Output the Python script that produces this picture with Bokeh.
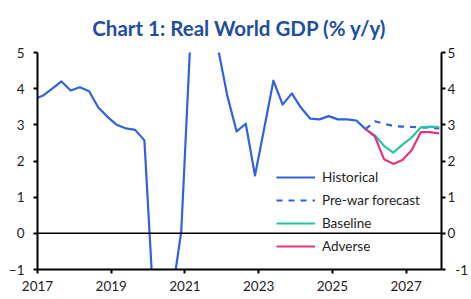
from bokeh.plotting import figure
from bokeh.models import (Range1d, LinearAxis, FixedTicker, Span, Legend, LegendItem)
from bokeh.embed import file_html
from bokeh.resources import INLINE

# ---- data (quarterly, % y/y) ----
title_text = "Chart 1: Real World GDP (% y/y)"

hist_quarters = ["2016Q4",
                 "2017Q1", "2017Q2", "2017Q3", "2017Q4",
                 "2018Q1", "2018Q2", "2018Q3", "2018Q4",
                 "2019Q1", "2019Q2", "2019Q3", "2019Q4",
                 "2020Q1", "2020Q2", "2020Q3", "2020Q4",
                 "2021Q1", "2021Q2", "2021Q3", "2021Q4",
                 "2022Q1", "2022Q2", "2022Q3", "2022Q4",
                 "2023Q1", "2023Q2", "2023Q3", "2023Q4",
                 "2024Q1", "2024Q2", "2024Q3", "2024Q4",
                 "2025Q1", "2025Q2", "2025Q3", "2025Q4"]
historical = [3.70,
              3.81, 4.00, 4.20, 3.95,
              4.04, 3.93, 3.48, 3.22,
              3.00, 2.90, 2.86, 2.57,
              -2.00, -8.50, -1.70, 0.05,
              5.40, 11.00, 6.00, 5.10,
              3.80, 2.82, 3.03, 1.60,
              2.90, 4.22, 3.56, 3.87,
              3.47, 3.17, 3.15, 3.24,
              3.15, 3.15, 3.12, 2.88]

fc_quarters = ["2025Q4",
               "2026Q1", "2026Q2", "2026Q3", "2026Q4",
               "2027Q1", "2027Q2", "2027Q3", "2027Q4"]
prewar = [2.88, 3.10, 3.03, 2.97, 2.95, 2.94, 2.93, 2.92, 2.90]
baseline = [2.88, 2.71, 2.42, 2.23, 2.45, 2.65, 2.93, 2.95, 2.94]
adverse = [2.88, 2.68, 2.05, 1.92, 2.03, 2.30, 2.80, 2.80, 2.76]

x_ticks = [2017, 2019, 2021, 2023, 2025, 2027]
y_ticks = [-1, 0, 1, 2, 3, 4, 5]


def qpos(q):
    year, qq = q.split("Q")
    return int(year) + 0.15 + 0.25 * (int(qq) - 1)


hx = [qpos(q) for q in hist_quarters]
fx = [qpos(q) for q in fc_quarters]

BLUE = "#2F62DC"
TEAL = "#27C4A4"
PINK = "#E4337F"
FONT = "Lato"
TXT = "#1E1E1E"

p = figure(width=471, height=299, output_backend="svg", toolbar_location=None,
           x_range=Range1d(2017, 2027.96), y_range=Range1d(-1, 5),
           min_border_left=37, min_border_right=28, min_border_top=51, min_border_bottom=30)
p.outline_line_color = None
p.xgrid.visible = False
p.ygrid.visible = False
p.background_fill_color = "white"

p.title.text = title_text
p.title.align = "center"
p.title.text_font = FONT
p.title.text_font_size = "20.5px"
p.title.text_font_style = "bold"
p.title.text_color = "#1F4E9E"
p.title.standoff = 26

for ax in [p.xaxis[0], p.yaxis[0]]:
    ax.axis_line_color = "black"
    ax.axis_line_width = 2
    ax.major_tick_line_color = "black"
    ax.major_tick_line_width = 2
    ax.major_tick_out = 4
    ax.major_tick_in = 0
    ax.minor_tick_line_color = None
    ax.major_label_text_font = FONT
    ax.major_label_text_font_size = "13.5px"
    ax.major_label_text_color = TXT

p.xaxis[0].ticker = FixedTicker(ticks=x_ticks)
p.xaxis[0].major_label_standoff = 7
p.yaxis[0].ticker = FixedTicker(ticks=y_ticks)
p.yaxis[0].major_label_standoff = 9

ry = LinearAxis(ticker=FixedTicker(ticks=y_ticks))
ry.axis_line_color = "black"
ry.axis_line_width = 2
ry.major_tick_line_color = "black"
ry.major_tick_line_width = 2
ry.major_tick_out = 4
ry.major_tick_in = 0
ry.minor_tick_line_color = None
ry.major_label_text_font = FONT
ry.major_label_text_font_size = "13.5px"
ry.major_label_text_color = TXT
ry.major_label_standoff = 2
ry.major_label_overrides = {-1: "\u2007-1"}
p.add_layout(ry, "right")

p.add_layout(Span(location=0, dimension="width", line_color="black", line_width=1.5))

r_hist = p.line(hx, historical, line_color=BLUE, line_width=2.2, line_join="round")
r_pre = p.line(fx, prewar, line_color=BLUE, line_width=2.2, line_dash="6 6")
r_base = p.line(fx, baseline, line_color=TEAL, line_width=2.2, line_join="round")
r_adv = p.line(fx, adverse, line_color=PINK, line_width=2.2, line_join="round")

legend = Legend(items=[LegendItem(label="Historical", renderers=[r_hist]),
                       LegendItem(label="Pre-war forecast", renderers=[r_pre]),
                       LegendItem(label="Baseline", renderers=[r_base]),
                       LegendItem(label="Adverse", renderers=[r_adv])],
                location=(239, 13))
legend.background_fill_alpha = 0
legend.border_line_color = None
legend.padding = 0
legend.margin = 0
legend.spacing = 3
legend.glyph_width = 39
legend.glyph_height = 20
legend.label_height = 20
legend.label_standoff = 7
legend.label_text_font = FONT
legend.label_text_font_size = "13.5px"
legend.label_text_color = TXT
p.add_layout(legend, "center")

open("out.html", "w").write(file_html(p, INLINE))
